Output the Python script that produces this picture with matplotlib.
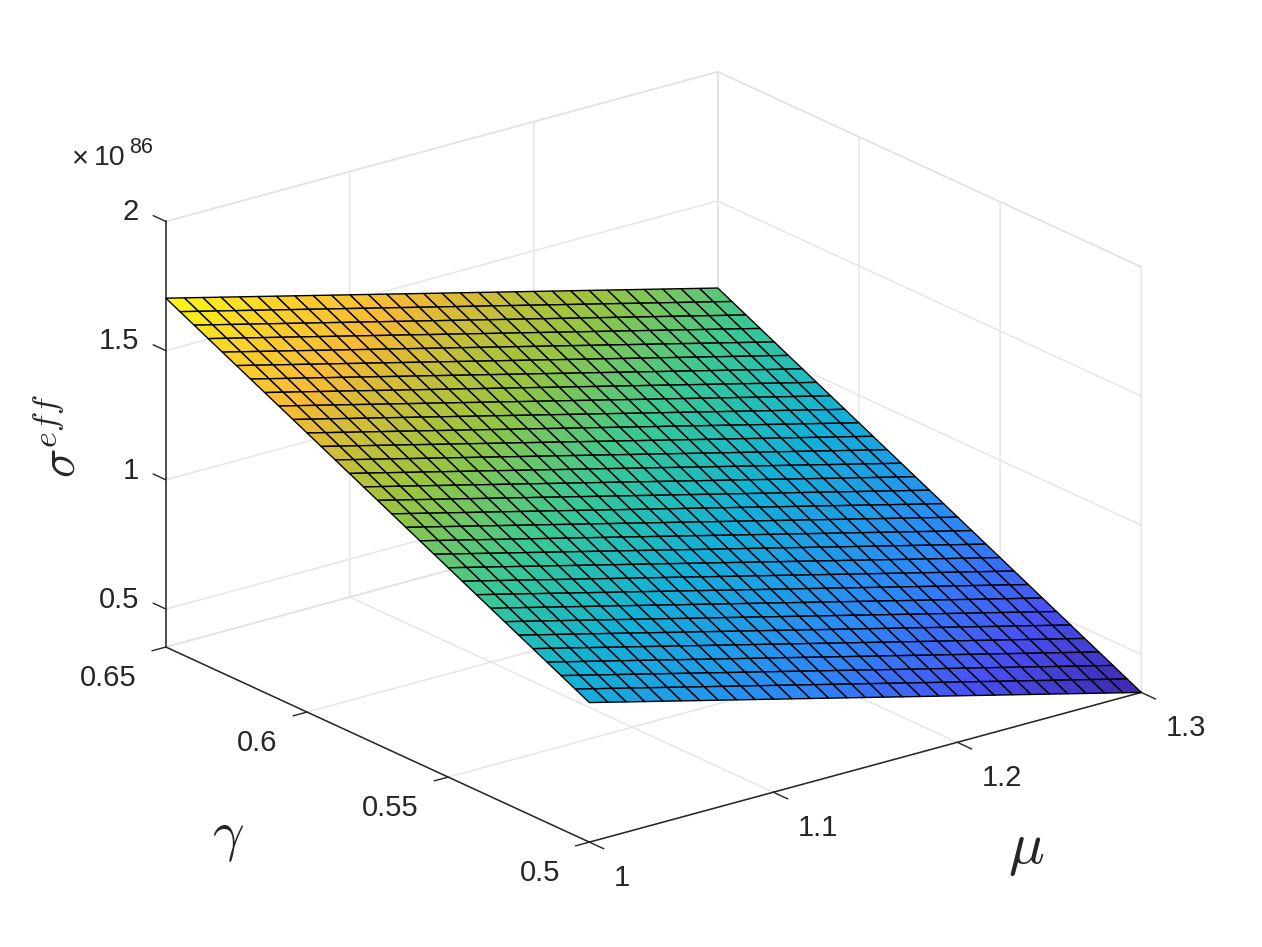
import numpy as np
import matplotlib
matplotlib.use('Agg')
import matplotlib.pyplot as plt
from matplotlib.colors import LinearSegmentedColormap, Normalize

plt.rcParams['font.family'] = 'Liberation Sans'

mu_values = [1.00, 1.01, 1.02, 1.03, 1.04, 1.05, 1.06, 1.07, 1.08, 1.09, 1.10,
             1.11, 1.12, 1.13, 1.14, 1.15, 1.16, 1.17, 1.18, 1.19, 1.20,
             1.21, 1.22, 1.23, 1.24, 1.25, 1.26, 1.27, 1.28, 1.29, 1.30]
gamma_values = [0.500, 0.505, 0.510, 0.515, 0.520, 0.525, 0.530, 0.535, 0.540, 0.545, 0.550,
                0.555, 0.560, 0.565, 0.570, 0.575, 0.580, 0.585, 0.590, 0.595, 0.600,
                0.605, 0.610, 0.615, 0.620, 0.625, 0.630, 0.635, 0.640, 0.645, 0.650]

# sigma_eff, in units of 1e83, one row per gamma
sigma_e83 = [
    [893,875,857,839,821,803,785,767,749,731,713,695,677,659,641,623,605,587,569,551,533,515,497,479,461,443,425,407,389,371,353],
    [920,902,884,866,848,830,812,794,776,758,740,722,704,686,668,650,632,614,596,578,560,542,524,506,488,470,452,434,416,398,380],
    [947,929,911,893,875,857,839,821,803,785,767,749,731,713,695,677,659,641,623,605,587,569,551,533,515,497,479,461,443,425,407],
    [974,956,938,920,902,884,866,848,830,812,794,776,758,740,722,704,686,668,650,632,614,596,578,560,542,524,506,488,470,452,434],
    [1001,983,965,947,929,911,893,875,857,839,821,803,785,767,749,731,713,695,677,659,641,623,605,587,569,551,533,515,497,479,461],
    [1028,1010,992,974,956,938,920,902,884,866,848,830,812,794,776,758,740,722,704,686,668,650,632,614,596,578,560,542,524,506,488],
    [1055,1037,1019,1001,983,965,947,929,911,893,875,857,839,821,803,785,767,749,731,713,695,677,659,641,623,605,587,569,551,533,515],
    [1082,1064,1046,1028,1010,992,974,956,938,920,902,884,866,848,830,812,794,776,758,740,722,704,686,668,650,632,614,596,578,560,542],
    [1109,1091,1073,1055,1037,1019,1001,983,965,947,929,911,893,875,857,839,821,803,785,767,749,731,713,695,677,659,641,623,605,587,569],
    [1136,1118,1100,1082,1064,1046,1028,1010,992,974,956,938,920,902,884,866,848,830,812,794,776,758,740,722,704,686,668,650,632,614,596],
    [1163,1145,1127,1109,1091,1073,1055,1037,1019,1001,983,965,947,929,911,893,875,857,839,821,803,785,767,749,731,713,695,677,659,641,623],
    [1190,1172,1154,1136,1118,1100,1082,1064,1046,1028,1010,992,974,956,938,920,902,884,866,848,830,812,794,776,758,740,722,704,686,668,650],
    [1217,1199,1181,1163,1145,1127,1109,1091,1073,1055,1037,1019,1001,983,965,947,929,911,893,875,857,839,821,803,785,767,749,731,713,695,677],
    [1244,1226,1208,1190,1172,1154,1136,1118,1100,1082,1064,1046,1028,1010,992,974,956,938,920,902,884,866,848,830,812,794,776,758,740,722,704],
    [1271,1253,1235,1217,1199,1181,1163,1145,1127,1109,1091,1073,1055,1037,1019,1001,983,965,947,929,911,893,875,857,839,821,803,785,767,749,731],
    [1298,1280,1262,1244,1226,1208,1190,1172,1154,1136,1118,1100,1082,1064,1046,1028,1010,992,974,956,938,920,902,884,866,848,830,812,794,776,758],
    [1325,1307,1289,1271,1253,1235,1217,1199,1181,1163,1145,1127,1109,1091,1073,1055,1037,1019,1001,983,965,947,929,911,893,875,857,839,821,803,785],
    [1352,1334,1316,1298,1280,1262,1244,1226,1208,1190,1172,1154,1136,1118,1100,1082,1064,1046,1028,1010,992,974,956,938,920,902,884,866,848,830,812],
    [1379,1361,1343,1325,1307,1289,1271,1253,1235,1217,1199,1181,1163,1145,1127,1109,1091,1073,1055,1037,1019,1001,983,965,947,929,911,893,875,857,839],
    [1406,1388,1370,1352,1334,1316,1298,1280,1262,1244,1226,1208,1190,1172,1154,1136,1118,1100,1082,1064,1046,1028,1010,992,974,956,938,920,902,884,866],
    [1433,1415,1397,1379,1361,1343,1325,1307,1289,1271,1253,1235,1217,1199,1181,1163,1145,1127,1109,1091,1073,1055,1037,1019,1001,983,965,947,929,911,893],
    [1460,1442,1424,1406,1388,1370,1352,1334,1316,1298,1280,1262,1244,1226,1208,1190,1172,1154,1136,1118,1100,1082,1064,1046,1028,1010,992,974,956,938,920],
    [1487,1469,1451,1433,1415,1397,1379,1361,1343,1325,1307,1289,1271,1253,1235,1217,1199,1181,1163,1145,1127,1109,1091,1073,1055,1037,1019,1001,983,965,947],
    [1514,1496,1478,1460,1442,1424,1406,1388,1370,1352,1334,1316,1298,1280,1262,1244,1226,1208,1190,1172,1154,1136,1118,1100,1082,1064,1046,1028,1010,992,974],
    [1541,1523,1505,1487,1469,1451,1433,1415,1397,1379,1361,1343,1325,1307,1289,1271,1253,1235,1217,1199,1181,1163,1145,1127,1109,1091,1073,1055,1037,1019,1001],
    [1568,1550,1532,1514,1496,1478,1460,1442,1424,1406,1388,1370,1352,1334,1316,1298,1280,1262,1244,1226,1208,1190,1172,1154,1136,1118,1100,1082,1064,1046,1028],
    [1595,1577,1559,1541,1523,1505,1487,1469,1451,1433,1415,1397,1379,1361,1343,1325,1307,1289,1271,1253,1235,1217,1199,1181,1163,1145,1127,1109,1091,1073,1055],
    [1622,1604,1586,1568,1550,1532,1514,1496,1478,1460,1442,1424,1406,1388,1370,1352,1334,1316,1298,1280,1262,1244,1226,1208,1190,1172,1154,1136,1118,1100,1082],
    [1649,1631,1613,1595,1577,1559,1541,1523,1505,1487,1469,1451,1433,1415,1397,1379,1361,1343,1325,1307,1289,1271,1253,1235,1217,1199,1181,1163,1145,1127,1109],
    [1676,1658,1640,1622,1604,1586,1568,1550,1532,1514,1496,1478,1460,1442,1424,1406,1388,1370,1352,1334,1316,1298,1280,1262,1244,1226,1208,1190,1172,1154,1136],
    [1703,1685,1667,1649,1631,1613,1595,1577,1559,1541,1523,1505,1487,1469,1451,1433,1415,1397,1379,1361,1343,1325,1307,1289,1271,1253,1235,1217,1199,1181,1163],
]

mu_ticks = [1.0, 1.1, 1.2, 1.3]
mu_labels = ['1', '1.1', '1.2', '1.3']
gamma_ticks = [0.5, 0.55, 0.6, 0.65]
gamma_labels = ['0.5', '0.55', '0.6', '0.65']
sigma_ticks = [0.5, 1.0, 1.5, 2.0]
sigma_labels = ['0.5', '1', '1.5', '2']

parula_colors = [(0.0, (0.2422, 0.1504, 0.6603)), (0.13, (0.2810, 0.3228, 0.9579)),
                 (0.25, (0.1786, 0.5289, 0.9682)), (0.43, (0.0689, 0.6948, 0.8394)),
                 (0.55, (0.2161, 0.7843, 0.5923)), (0.68, (0.60, 0.77, 0.25)),
                 (0.80, (0.89, 0.73, 0.21)), (0.83, (0.97, 0.73, 0.22)),
                 (0.92, (0.98, 0.83, 0.16)), (1.0, (0.9769, 0.9839, 0.0805))]
parula = LinearSegmentedColormap.from_list('parula_like', parula_colors)

TEXT_COLOR = '#262626'
GRID_COLOR = '#e4e4e4'
BOX_COLOR = '#d8d8d8'

W, H = 1262, 947
fig = plt.figure(figsize=(W / 100, H / 100), dpi=100, facecolor='white')
# oversized square axes so nothing gets clipped by the axes patch
side = 1300
ax = fig.add_axes([-14 / W, -177.5 / H, side / W, side / H], projection='3d', proj_type='ortho')
ax.patch.set_visible(False)
ax.view_init(elev=20.7, azim=-127.5)
ax.set_box_aspect((1, 1, 0.654), zoom=0.8094)

X, Y = np.meshgrid(mu_values, gamma_values)
Z = np.array(sigma_e83) / 1000.0

ax.plot_surface(X, Y, Z, rstride=1, cstride=1, cmap=parula, norm=Normalize(Z.min(), Z.max()),
                edgecolor='black', linewidth=1.0, shade=False, antialiased=True)

ax.set_xlim(1.0, 1.3)
ax.set_ylim(0.5, 0.65)
ax.set_zlim(Z.min(), 2.0)

ax.set_xticks(mu_ticks)
ax.set_xticklabels(mu_labels)
ax.set_yticks(gamma_ticks)
ax.set_yticklabels(gamma_labels)
ax.set_zticks(sigma_ticks)
ax.set_zticklabels(sigma_labels)

ax.tick_params(axis='both', labelsize=21, labelcolor=TEXT_COLOR, color=TEXT_COLOR)
ax.tick_params(axis='x', pad=20)
ax.tick_params(axis='y', pad=18)
ax.tick_params(axis='z', pad=5.5)

# the sign picks the outer side of the box for this view
tick_out = {'x': -0.42, 'y': -0.31, 'z': 0.37}
for name, axis in (('x', ax.xaxis), ('y', ax.yaxis), ('z', ax.zaxis)):
    axis.set_pane_color((1, 1, 1, 1))
    axis.pane.set_edgecolor(BOX_COLOR)
    axis.pane.set_linewidth(1.0)
    axis.line.set_color(TEXT_COLOR)
    axis.line.set_linewidth(1.1)
    axis._axinfo['grid'].update({'color': GRID_COLOR, 'linewidth': 1.0, 'linestyle': '-'})
    axis._axinfo['tick'].update({'inward_factor': 0.0, 'outward_factor': tick_out[name]})
    axis._axinfo['tick']['linewidth'] = {True: 1.0, False: 0.5}

# z ticks run along the gamma direction in the source figure
ax.zaxis._get_tickdir = lambda pos: 1

for lab in ax.xaxis.get_ticklabels():
    lab.set_ha('left')
    lab.set_va('center')
for lab in ax.yaxis.get_ticklabels():
    lab.set_ha('right')
    lab.set_va('center')
for lab in ax.zaxis.get_ticklabels():
    lab.set_ha('right')
    lab.set_va('baseline')

# axis titles and exponent, placed as in the source figure
fig.text(1026 / W, 1 - 850 / H, r'$\mu$', fontsize=43, math_fontfamily='cm', color=TEXT_COLOR, ha='center', va='center')
fig.text(228 / W, 1 - 838 / H, r'$\gamma$', fontsize=40, math_fontfamily='cm', color=TEXT_COLOR, ha='center', va='center')
fig.text(62 / W, 1 - 436 / H, r'$\sigma^{eff}$', fontsize=35, math_fontfamily='cm', color=TEXT_COLOR,
         rotation=90, ha='center', va='center')
fig.text(72 / W, 1 - 159 / H, '\u00d7', fontsize=21, color=TEXT_COLOR, ha='left', va='center')
fig.text(94 / W, 1 - 158 / H, '10', fontsize=20.5, color=TEXT_COLOR, ha='left', va='center')
fig.text(129 / W, 1 - 147 / H, '86', fontsize=15.5, color=TEXT_COLOR, ha='left', va='center')

fig.savefig('out.png', dpi=100)
plt.close(fig)
